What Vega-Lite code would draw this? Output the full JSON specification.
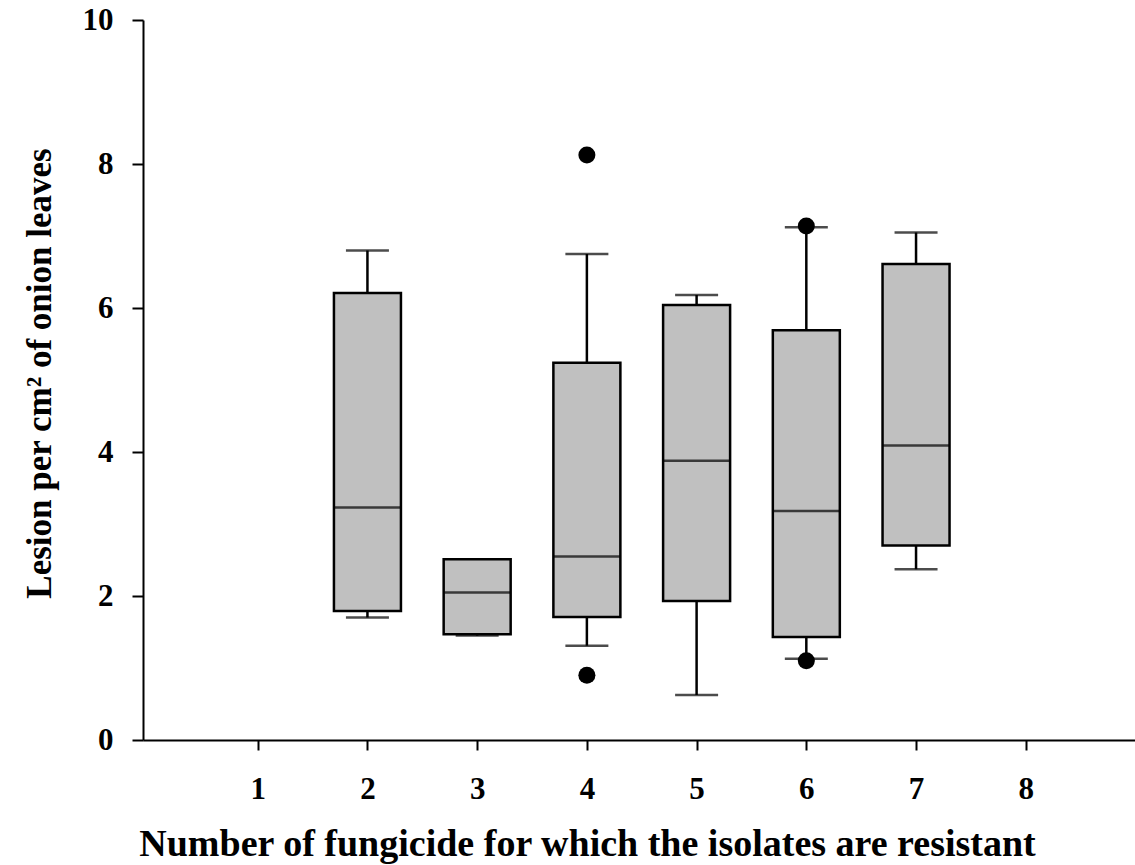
{
  "$schema": "https://vega.github.io/schema/vega-lite/v6.json",
  "autosize": "none",
  "width": 992,
  "height": 720,
  "padding": {"left": 143, "top": 20, "right": 0, "bottom": 125},
  "background": "white",
  "config": {
    "view": {"stroke": null},
    "font": "Liberation Serif",
    "axis": {
      "grid": false,
      "labelFont": "Liberation Serif",
      "labelFontWeight": "bold",
      "labelColor": "black",
      "labelFontSize": 31,
      "titleFont": "Liberation Serif",
      "titleFontWeight": "bold",
      "titleColor": "black",
      "domainColor": "black",
      "domainWidth": 2,
      "tickColor": "black",
      "tickWidth": 2
    }
  },
  "datasets": {
    "boxes": [
      {"n": 2, "lower": 1.70, "q1": 1.79, "median": 3.23, "q3": 6.21, "upper": 6.80},
      {"n": 3, "lower": 1.45, "q1": 1.47, "median": 2.05, "q3": 2.51, "upper": 2.51},
      {"n": 4, "lower": 1.31, "q1": 1.71, "median": 2.55, "q3": 5.24, "upper": 6.75},
      {"n": 5, "lower": 0.625, "q1": 1.93, "median": 3.88, "q3": 6.04, "upper": 6.18},
      {"n": 6, "lower": 1.13, "q1": 1.43, "median": 3.18, "q3": 5.69, "upper": 7.12},
      {"n": 7, "lower": 2.37, "q1": 2.70, "median": 4.09, "q3": 6.61, "upper": 7.05}
    ],
    "outliers": [
      {"n": 4, "value": 8.125},
      {"n": 4, "value": 0.90},
      {"n": 6, "value": 7.14},
      {"n": 6, "value": 1.10}
    ]
  },
  "layer": [
    {
      "data": {"name": "boxes"},
      "mark": {"type": "rule", "color": "black", "strokeWidth": 2.5},
      "encoding": {
        "x": {
          "field": "n", "type": "quantitative",
          "scale": {"domain": [0, 8.95], "nice": false, "zero": false},
          "axis": {
            "values": [1, 2, 3, 4, 5, 6, 7, 8],
            "format": "d",
            "tickSize": 10,
            "labelPadding": 24,
            "title": "Number of fungicide for which the isolates are resistant",
            "titleFontSize": 38,
            "titlePadding": 21,
            "titleX": 444
          }
        },
        "y": {
          "field": "lower", "type": "quantitative",
          "scale": {"domain": [0, 10], "nice": false},
          "axis": {
            "values": [0, 2, 4, 6, 8, 10],
            "format": "d",
            "tickSize": 11,
            "labelPadding": 19,
            "title": "Lesion per cm² of onion leaves",
            "titleFontSize": 35,
            "titlePadding": 25,
            "titleY": 353
          }
        },
        "y2": {"field": "upper"}
      }
    },
    {
      "data": {"name": "boxes"},
      "mark": {"type": "tick", "orient": "horizontal", "color": "black", "size": 43, "thickness": 2.5},
      "encoding": {
        "x": {"field": "n", "type": "quantitative"},
        "y": {"field": "lower", "type": "quantitative"}
      }
    },
    {
      "data": {"name": "boxes"},
      "mark": {"type": "tick", "orient": "horizontal", "color": "black", "size": 43, "thickness": 2.5},
      "encoding": {
        "x": {"field": "n", "type": "quantitative"},
        "y": {"field": "upper", "type": "quantitative"}
      }
    },
    {
      "data": {"name": "boxes"},
      "mark": {"type": "bar", "orient": "vertical", "size": 67, "fill": "#c0c0c0", "stroke": "black", "strokeWidth": 2.5},
      "encoding": {
        "x": {"field": "n", "type": "quantitative"},
        "y": {"field": "q1", "type": "quantitative"},
        "y2": {"field": "q3"}
      }
    },
    {
      "data": {"name": "boxes"},
      "mark": {"type": "tick", "orient": "horizontal", "color": "black", "size": 66, "thickness": 2.5},
      "encoding": {
        "x": {"field": "n", "type": "quantitative"},
        "y": {"field": "median", "type": "quantitative"}
      }
    },
    {
      "data": {"name": "outliers"},
      "mark": {"type": "point", "filled": true, "color": "black", "opacity": 1, "size": 290},
      "encoding": {
        "x": {"field": "n", "type": "quantitative"},
        "y": {"field": "value", "type": "quantitative"}
      }
    },
    {
      "mark": {"type": "rule", "color": "black", "strokeWidth": 2},
      "encoding": {"y": {"datum": 10}}
    }
  ]
}
